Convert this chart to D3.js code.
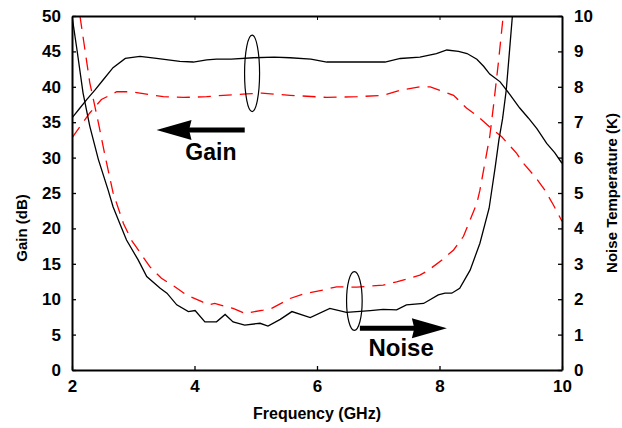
<!DOCTYPE html>
<html><head><meta charset="utf-8">
<script src="https://cdn.jsdelivr.net/npm/d3@7"></script>
<style>
html,body{margin:0;padding:0;background:#fff;}
svg{display:block;}
text{font-family:"Liberation Sans",Arial,Helvetica,sans-serif;font-weight:bold;fill:#000;}
</style></head>
<body>
<svg id="chart" width="622" height="428"></svg>
<script>
// ---- data ----
const xTicks = [2, 4, 6, 8, 10];
const gainTicks = [0, 5, 10, 15, 20, 25, 30, 35, 40, 45, 50];
const noiseTicks = [0, 1, 2, 3, 4, 5, 6, 7, 8, 9, 10];

const gainSolidF = [2.0, 2.12, 2.24, 2.38, 2.51, 2.67, 2.87, 3.11, 3.38, 3.76, 3.98, 4.2, 4.36, 4.6, 4.96, 5.3, 5.56, 5.9, 6.16, 6.65, 7.11, 7.36, 7.68, 7.95, 8.12, 8.31, 8.45, 8.61, 8.72, 8.82, 8.99, 9.15, 9.31, 9.45, 9.59, 9.75, 9.88, 10.0];
const gainSolidDB = [35.6, 36.9, 38.2, 39.6, 41.0, 42.7, 44.0, 44.3, 44.0, 43.6, 43.5, 43.8, 43.9, 43.9, 44.1, 44.2, 44.1, 43.9, 43.5, 43.5, 43.5, 44.0, 44.2, 44.7, 45.2, 45.0, 44.7, 43.9, 42.9, 41.8, 40.7, 38.9, 37.0, 35.6, 34.1, 32.0, 30.7, 29.2];

const gainDashF = [2.0, 2.15, 2.29, 2.48, 2.73, 2.97, 3.27, 3.49, 3.82, 4.2, 4.47, 4.85, 5.1, 5.56, 6.16, 6.65, 7.08, 7.36, 7.68, 7.85, 8.01, 8.23, 8.44, 8.63, 8.85, 9.02, 9.26, 9.37, 9.56, 9.72, 9.86, 10.0];
const gainDashDB = [32.8, 34.6, 36.3, 38.2, 39.3, 39.3, 38.9, 38.6, 38.5, 38.6, 38.8, 39.0, 39.1, 38.8, 38.5, 38.6, 38.8, 39.5, 40.0, 40.0, 39.5, 38.8, 37.0, 35.8, 34.1, 32.9, 30.6, 29.2, 27.3, 25.4, 23.3, 21.0];

const noiseSolidF = [2.0, 2.08, 2.18, 2.29, 2.43, 2.59, 2.67, 2.78, 2.89, 3.08, 3.22, 3.44, 3.55, 3.71, 3.90, 4.01, 4.17, 4.36, 4.50, 4.63, 4.82, 5.07, 5.2, 5.40, 5.59, 5.89, 6.21, 6.48, 6.87, 7.08, 7.30, 7.46, 7.74, 7.98, 8.09, 8.2, 8.33, 8.50, 8.66, 8.81, 8.91, 8.97, 9.03, 9.09, 9.14, 9.19];
const noiseSolidK = [10, 9.06, 7.83, 6.89, 5.95, 5.08, 4.61, 4.14, 3.67, 3.11, 2.64, 2.31, 2.17, 1.84, 1.65, 1.68, 1.36, 1.36, 1.57, 1.36, 1.27, 1.32, 1.24, 1.43, 1.65, 1.48, 1.74, 1.63, 1.68, 1.71, 1.70, 1.84, 1.88, 2.12, 2.17, 2.17, 2.31, 2.82, 3.58, 4.57, 5.74, 6.5, 7.1, 7.91, 8.95, 10];

const noiseDashF = [2.13, 2.21, 2.29, 2.43, 2.54, 2.67, 2.84, 2.97, 3.27, 3.46, 3.68, 3.87, 4.12, 4.23, 4.33, 4.63, 4.82, 5.12, 5.26, 5.56, 5.78, 6.10, 6.32, 6.65, 7.08, 7.30, 7.68, 7.82, 8.04, 8.23, 8.39, 8.50, 8.61, 8.66, 8.74, 8.82, 8.88, 8.96, 9.04];
const noiseDashK = [10, 9.06, 8.12, 6.99, 6.05, 5.01, 4.14, 3.67, 2.92, 2.59, 2.35, 2.12, 1.93, 1.84, 1.88, 1.74, 1.60, 1.69, 1.74, 2.02, 2.15, 2.26, 2.35, 2.34, 2.40, 2.49, 2.68, 2.82, 3.11, 3.39, 3.77, 4.24, 4.71, 5.08, 5.84, 6.59, 7.44, 8.66, 10];

// ---- layout ----
const W = 622, H = 428;
const L = 72, R = 562, T = 16, B = 370;
const svg = d3.select("#chart");

const x = d3.scaleLinear().domain([2, 10]).range([L, R]);
const yG = d3.scaleLinear().domain([0, 50]).range([B, T]);
const yN = d3.scaleLinear().domain([0, 10]).range([B, T]);

svg.append("defs").append("clipPath").attr("id", "clip")
  .append("rect").attr("x", L).attr("y", T).attr("width", R - L).attr("height", B - T);

const plot = svg.append("g").attr("clip-path", "url(#clip)");

function series(fs, vs, yScale) {
  return fs.map((f, i) => [x(f), yScale(vs[i])]);
}
const line = d3.line();

plot.append("path").attr("d", line(series(gainSolidF, gainSolidDB, yG)))
  .attr("fill", "none").attr("stroke", "#000").attr("stroke-width", 1.3);
plot.append("path").attr("d", line(series(gainDashF, gainDashDB, yG)))
  .attr("fill", "none").attr("stroke", "#ff0000").attr("stroke-width", 1.3).attr("stroke-dasharray", "13,8");
plot.append("path").attr("d", line(series(noiseSolidF, noiseSolidK, yN)))
  .attr("fill", "none").attr("stroke", "#000").attr("stroke-width", 1.3);
plot.append("path").attr("d", line(series(noiseDashF, noiseDashK, yN)))
  .attr("fill", "none").attr("stroke", "#ff0000").attr("stroke-width", 1.3).attr("stroke-dasharray", "13,8");

// ---- axes ----
const axL = svg.append("g").attr("transform", `translate(${L},0)`)
  .call(d3.axisLeft(yG).tickValues(gainTicks).tickSizeInner(-4).tickSizeOuter(0).tickPadding(11));
const axR = svg.append("g").attr("transform", `translate(${R},0)`)
  .call(d3.axisRight(yN).tickValues(noiseTicks).tickSizeInner(-4).tickSizeOuter(0).tickPadding(12));
const axB = svg.append("g").attr("transform", `translate(0,${B})`)
  .call(d3.axisBottom(x).tickValues(xTicks).tickSizeInner(-4).tickSizeOuter(0).tickPadding(10).tickFormat(d3.format("d")));
const axT = svg.append("g").attr("transform", `translate(0,${T})`)
  .call(d3.axisTop(x).tickValues(xTicks).tickSizeInner(-4).tickSizeOuter(0).tickFormat(""));

[axL, axR, axB, axT].forEach(a => {
  a.select(".domain").attr("stroke", "#000").attr("stroke-width", 2);
  a.selectAll(".tick line").attr("stroke", "#000").attr("stroke-width", 1.3);
  a.selectAll(".tick text").style("font-size", "17px").style("font-weight", "bold")
    .style("font-family", '"Liberation Sans",Arial,sans-serif').attr("fill", "#000");
});
axB.selectAll(".tick text").attr("dy", "0.71em");
axT.selectAll(".tick line").attr("stroke-width", 1);

// ---- axis titles ----
svg.append("text").attr("transform", `translate(27,228) rotate(-90)`)
  .attr("text-anchor", "middle").style("font-size", "15px").text("Gain (dB)");
svg.append("text").attr("transform", `translate(617,${(T + B) / 2}) rotate(-90)`)
  .attr("text-anchor", "middle").style("font-size", "15px").text("Noise Temperature (K)");
svg.append("text").attr("x", (L + R) / 2).attr("y", 419)
  .attr("text-anchor", "middle").style("font-size", "16px").text("Frequency (GHz)");

// ---- annotations ----
function ellipse(cf, cv, yScale, rx, ryv) {
  svg.append("ellipse").attr("cx", x(cf)).attr("cy", yScale(cv))
    .attr("rx", rx).attr("ry", Math.abs(yScale(0) - yScale(ryv)))
    .attr("fill", "none").attr("stroke", "#000").attr("stroke-width", 1.2);
}
ellipse(4.94, 41.9, yG, 7.5, 5.4);
ellipse(6.61, 1.95, yN, 7.8, 0.83);

function arrow(f0, f1, v, yScale) {
  const x0 = x(f0), x1 = x(f1), yy = yScale(v);
  const dir = Math.sign(x1 - x0);
  const head = 35;
  svg.append("line").attr("x1", x0).attr("y1", yy).attr("x2", x1 - dir * head * 0.9).attr("y2", yy)
    .attr("stroke", "#000").attr("stroke-width", 5);
  svg.append("path")
    .attr("d", `M${x1},${yy} L${x1 - dir * head},${yy - 10} L${x1 - dir * head * 0.93},${yy} L${x1 - dir * head},${yy + 10} Z`)
    .attr("fill", "#000");
}
arrow(4.82, 3.38, 33.9, yG);
arrow(6.70, 8.12, 1.18, yN);

svg.append("text").attr("x", x(3.85)).attr("y", yG(29.7)).style("font-size", "23px").text("Gain");
svg.append("text").attr("x", x(6.84)).attr("y", yN(0.40)).style("font-size", "24px").text("Noise");
</script>
</body></html>
